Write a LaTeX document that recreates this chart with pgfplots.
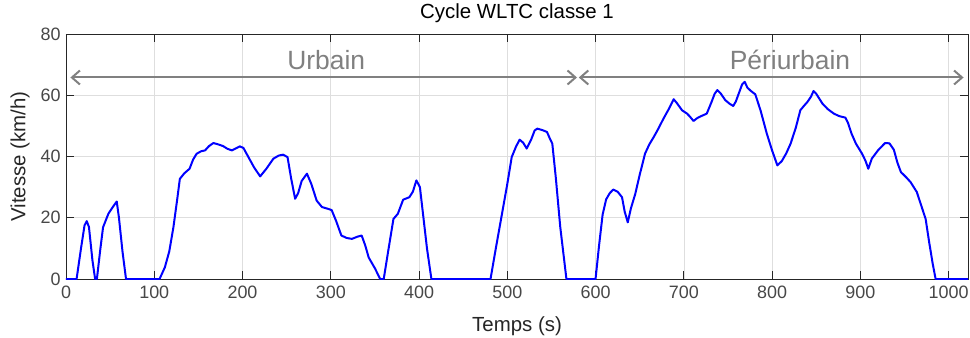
\documentclass[border=0pt]{standalone}
\usepackage{pgfplots}
\pgfplotsset{compat=1.18}
\usepackage{fontspec}
\setmainfont{Liberation Sans}
\usetikzlibrary{arrows.meta}

\definecolor{matgray}{rgb}{0.15,0.15,0.15}
\definecolor{gridgray}{rgb}{0.87,0.87,0.87}
\definecolor{annot}{rgb}{0.5,0.5,0.5}

\pgfplotstableread{
t v
0 0
12 0
17 10
21 17.5
23.5 18.9
26 17
30 6
33 0
35 0
39 10
42 16.9
48 21.3
53 23.5
57.5 25.3
60 20
64 9
68 0
106 0
112 3.8
117 9
121.7 16.9
126 26
129 32.7
134 34.5
140 36
144 39
148 40.9
153 41.7
157.6 42
162 43.4
167 44.4
172 44
178 43.4
183 42.5
188 42
192 42.6
197 43.3
201 42.8
206.7 39.8
213 36.5
220 33.5
227 36
235 39.3
241 40.3
246 40.6
251 39.8
255 33
259.6 26.2
263 28
267 32
273 34.4
278 31
284 25.6
290 23.5
297 22.9
301 22.5
306 19
312 14.2
318 13.4
324 13.1
330 13.8
335 14.2
339 11
343 7
350 3.5
356 0
360 0
365 9
371 19.6
376 21.3
382 25.9
389 26.7
393 28.5
397 32.2
401 30
405 20
409 10
414 0
481 0
487 10
494 21.3
500 31
505 39.8
510 43.3
514 45.5
518 44.5
522 42.6
527 45.5
531 48.5
534 49.1
540 48.6
545 48
548 46
551 44.2
555 33
560 17
567 0
600 0
604 11
608 21
612 26
616 28
620 29.2
625 28.5
630 26.7
633 22
636.5 18.5
640 23
645 27.8
650 34
656 40.9
661 44
666 46.4
671 49
677 52.4
683 55.5
688.5 58.7
692 57.5
698 55.1
703.7 54
707 53
711 51.6
715 52.5
719 53.1
726 54
731 57.5
735 60.5
738 61.7
742 60.5
747 58.4
752 57.2
756 56.5
759 58
762.3 60.6
766 63.5
769 64.4
772 62.5
776 61.4
781 60.3
787 55
794 47.5
800 42
806 37.1
811 38.5
816 41
821 44.2
827 49.5
832 55.1
836 56.5
840 57.8
844 59.5
847 61.4
850 60.5
857 57.3
863 55.5
870 54
876 53.2
883 52.7
886 51
890 47.5
895 44.2
902 40.9
906 38.5
909 36
913 39.3
920 42
928 44.4
933 44.3
938 42.2
942 38
946 34.9
952 33.2
957 31.6
964 28.4
969 24
974 19.6
978 12
982 5
985.3 0
1022 0
}\wltc

\begin{document}
\begin{tikzpicture}
\begin{axis}[
    at={(0,0)}, anchor=south west,
    scale only axis,
    width=902bp, height=245bp,
    xmin=0, xmax=1022, ymin=0, ymax=80,
    xtick={0,100,...,1000},
    ytick={0,20,...,80},
    grid=major,
    major grid style={gridgray, line width=0.6bp},
    axis line style={matgray, line width=0.8bp},
    tick style={matgray, line width=0.8bp},
    tick align=inside,
    major tick length=8bp,
    tick label style={font=\fontsize{18}{20}\selectfont, text=matgray!85},
    /pgf/number format/assume math mode=true,
    /pgf/number format/1000 sep={},
    xticklabel style={yshift=-3bp},
    yticklabel style={xshift=-2bp},
    title={Cycle WLTC classe 1},
    title style={font=\fontsize{20.5}{22}\selectfont, text=black, at={(axis description cs:0.5,1)}, anchor=base, yshift=10bp},
    xlabel={Temps (s)},
    ylabel={Vitesse (km/h)},
    label style={font=\fontsize{20.5}{22}\selectfont, text=matgray},
    xlabel style={at={(axis description cs:0.5,-0.216)}, anchor=base},
    ylabel style={at={(axis description cs:-0.051,0.5)}, anchor=center},
]
\addplot[color=blue, line width=2bp, line join=round] table[x=t, y=v] {\wltc};
\draw[annot, line width=2bp, {Straight Barb[length=8bp,width=14bp]}-{Straight Barb[length=8bp,width=14bp]}] (axis cs:5,65.8) -- (axis cs:579,65.8);
\draw[annot, line width=2bp, {Straight Barb[length=8bp,width=14bp]}-{Straight Barb[length=8bp,width=14bp]}] (axis cs:581,65.8) -- (axis cs:1017,65.8);
\node[annot, font=\fontsize{26.5}{28}\selectfont, anchor=base] at (axis cs:294.8,68.4) {Urbain};
\node[annot, font=\fontsize{26.5}{28}\selectfont, anchor=base] at (axis cs:820.3,68.4) {Périurbain};
\end{axis}
\pgfresetboundingbox
\path[use as bounding box] (-66bp,-59bp) rectangle (904bp,279bp);
\end{tikzpicture}
\end{document}
